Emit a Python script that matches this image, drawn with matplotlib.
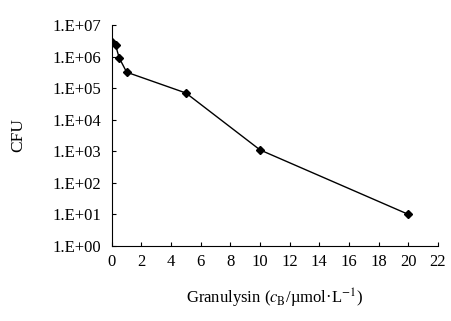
import math
import matplotlib.pyplot as plt
import matplotlib.ticker as mticker

# data
conc = [0, 0.25, 0.5, 1, 5, 10, 20]
cfu = [3.0e6, 2.3e6, 9.0e5, 3.2e5, 7.0e4, 1.1e3, 1.0e1]
x_ticks = list(range(0, 23, 2))
y_ticks = [10.0 ** k for k in range(0, 8)]

plt.rcParams['font.family'] = ['Liberation Serif', 'DejaVu Serif']
plt.rcParams['mathtext.fontset'] = 'stix'

fig = plt.figure(figsize=(4.51, 3.21), dpi=100)
ax = fig.add_axes([0.248, 0.234, 0.723, 0.688])

ax.plot(conc, cfu, color='black', lw=1.0, marker='D', ms=4.5)
ax.set_yscale('log')
ax.set_xlim(0, 22)
ax.set_ylim(1, 1e7)
ax.set_xticks(x_ticks)
ax.set_yticks(y_ticks)
ax.yaxis.set_major_formatter(mticker.FuncFormatter(lambda v, p: '1.E+%02d' % round(math.log10(v))))
ax.yaxis.set_minor_locator(mticker.NullLocator())
ax.tick_params(direction='in', length=3, labelsize=12, width=0.8)
ax.tick_params(axis='y', pad=8)
ax.tick_params(axis='x', pad=6)

for side in ['top', 'right']:
    ax.spines[side].set_visible(False)

ax.set_xlabel(r'Granulysin ($c_{\rm B}$/µmol·L$^{-1}$)', fontsize=12, labelpad=12)
ax.set_ylabel('CFU', fontsize=12.5)
ax.yaxis.set_label_coords(-0.262, 0.5)

fig.savefig('out.png', dpi=100)
